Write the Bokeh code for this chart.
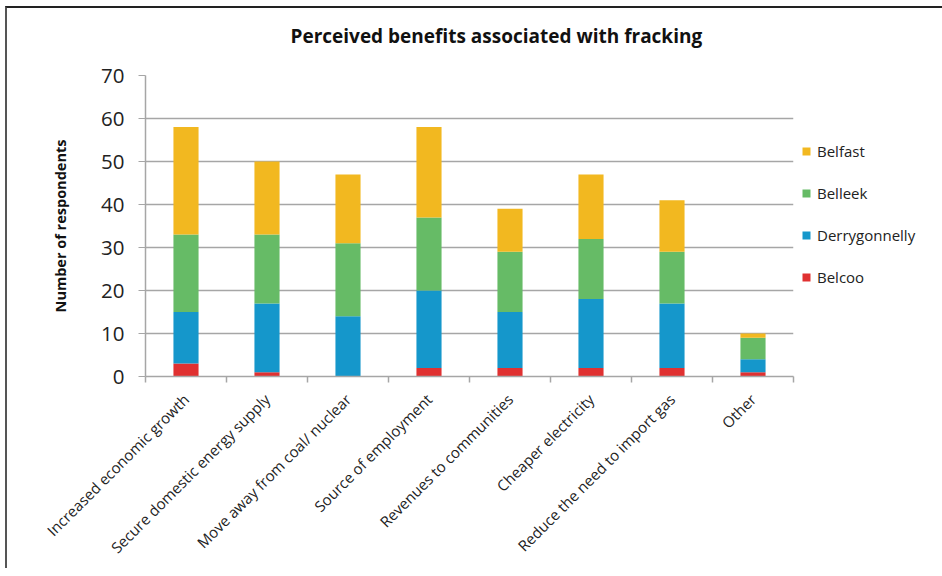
import math
from bokeh.plotting import figure
from bokeh.models import Range1d, FixedTicker, Legend, LegendItem, ColumnDataSource, Title
from bokeh.embed import file_html
from bokeh.resources import INLINE

categories = ["Increased economic growth", "Secure domestic energy supply",
              "Move away from coal/ nuclear", "Source of employment",
              "Revenues to communities", "Cheaper electricity",
              "Reduce the need to import gas", "Other"]
belcoo = [3, 1, 0, 2, 2, 2, 2, 1]
derrygonnelly = [12, 16, 14, 18, 13, 16, 15, 3]
belleek = [18, 16, 17, 17, 14, 14, 12, 5]
belfast = [25, 17, 16, 21, 10, 15, 12, 1]
series_names = ["Belcoo", "Derrygonnelly", "Belleek", "Belfast"]
colors = ["#E03131", "#1597CB", "#66BB66", "#F2B820"]
y_ticks = [0, 10, 20, 30, 40, 50, 60, 70]

FONT = "Open Sans"
xs = [i + 0.5 for i in range(len(categories))]
src = ColumnDataSource(dict(x=xs, Belcoo=belcoo, Derrygonnelly=derrygonnelly,
                            Belleek=belleek, Belfast=belfast))

p = figure(frame_width=648, frame_height=301, output_backend="svg", toolbar_location=None,
           x_range=Range1d(0, len(categories)), y_range=Range1d(0, 70),
           min_border_left=138, min_border_right=149, min_border_top=67,
           min_border_bottom=192,
           title="Perceived benefits associated with fracking")
p.styles = {"border-top": "2px solid #222222", "border-left": "2px solid #555555",
            "margin-left": "5px", "margin-top": "6px"}

rs = p.vbar_stack(series_names, x="x", width=0.31, source=src, color=colors,
                  line_color=None)

p.title.text_font = FONT
p.title.text_font_size = "19px"
p.title.text_font_style = "bold"
p.title.text_color = "#111111"
p.title.align = "left"
p.title.offset = 145
p.title.standoff = 0

# invisible spacer between the title and the plot area
p.add_layout(Title(text=" ", text_font_size="1px", standoff=24), "above")

p.outline_line_color = None
p.xgrid.visible = False
p.ygrid.ticker = FixedTicker(ticks=y_ticks)
p.ygrid.grid_line_color = "#A6A6A6"
p.ygrid.grid_line_width = 1.5

ya = p.yaxis[0]
ya.ticker = FixedTicker(ticks=y_ticks)
ya.axis_line_color = "#A6A6A6"
ya.axis_line_width = 1.5
ya.major_tick_line_color = "#A6A6A6"
ya.major_tick_out = 7
ya.major_tick_in = 0
ya.minor_tick_line_color = None
ya.major_label_text_font = FONT
ya.major_label_text_font_size = "20.5px"
ya.major_label_text_color = "#222222"
ya.major_label_standoff = 14
ya.axis_label = "Number of respondents"
ya.axis_label_text_font = FONT
ya.axis_label_text_font_size = "14.5px"
ya.axis_label_text_font_style = "bold"
ya.axis_label_text_color = "#111111"
ya.axis_label_standoff = 28

xa = p.xaxis[0]
xa.ticker = FixedTicker(ticks=xs, minor_ticks=list(range(len(categories) + 1)))
xa.major_label_overrides = {x: c for x, c in zip(xs, categories)}
xa.major_label_orientation = math.pi / 4
xa.major_label_text_font = FONT
xa.major_label_text_font_size = "15px"
xa.major_label_text_color = "#222222"
xa.major_label_standoff = 14
xa.major_tick_out = 0
xa.major_tick_in = 0
xa.minor_tick_out = 6
xa.minor_tick_in = 0
xa.minor_tick_line_color = "#A6A6A6"
xa.minor_tick_line_width = 1.5
xa.axis_line_color = "#A6A6A6"
xa.axis_line_width = 1.5

items = [LegendItem(label=n, renderers=[r]) for n, r in zip(series_names, rs)][::-1]
legend = Legend(items=items, location="top_left", glyph_width=10, glyph_height=10,
                label_height=20, spacing=22, padding=0, margin=8,
                label_standoff=6, border_line_color=None,
                background_fill_alpha=0,
                title=" ", title_text_font_size="2px", title_standoff=56,
                label_text_font=FONT, label_text_font_size="15px",
                label_text_color="#222222")
p.add_layout(legend, "right")

open("out.html", "w").write(file_html(p, INLINE))
